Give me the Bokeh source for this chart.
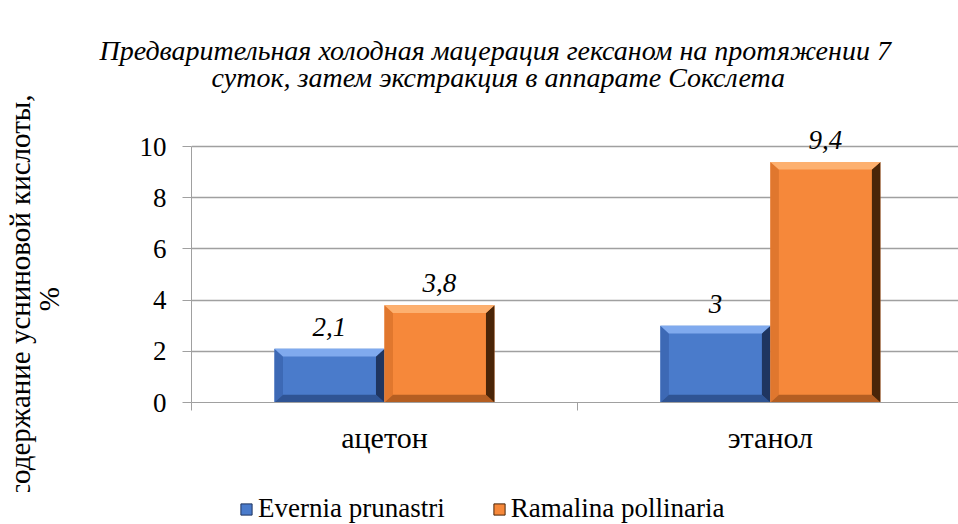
from bokeh.plotting import figure
from bokeh.layouts import column
from bokeh.models import (Range1d, FixedTicker, Title, Legend, LegendItem)
from bokeh.core.properties import value
from bokeh.embed import file_html
from bokeh.resources import INLINE

categories = ["ацетон", "этанол"]
series_names = ["Evernia prunastri", "Ramalina pollinaria"]
evernia = [2.1, 3.0]
ramalina = [3.8, 9.4]
value_labels_evernia = ["2,1", "3"]
value_labels_ramalina = ["3,8", "9,4"]
y_ticks = [0, 2, 4, 6, 8, 10]

title_line1 = "Предварительная холодная мацерация гексаном на протяжении 7"
title_line2 = "суток, затем экстракция в аппарате Сокслета"
NB = "\u00a0"
title_text = title_line1 + "\n" + NB * 16 + title_line2
y_label = "содержание усниновой кислоты," + NB * 9 + "\n%" + NB * 10

FONT = "'Liberation Serif'"
base = {"Evernia prunastri": dict(main="#4a7bcb", top="#80aaee", left="#3d69b5",
                                  bottom="#2f5494", right="#1f3560"),
        "Ramalina pollinaria": dict(main="#f6883a", top="#fdb06f", left="#e0772e",
                                    bottom="#b45e22", right="#4a2508")}

# ---------- main chart ----------
p = figure(frame_width=768, frame_height=279, x_range=Range1d(0, 1.99),
           y_range=Range1d(0, 10.9),
           output_backend="svg", toolbar_location=None,
           min_border_left=190, min_border_right=0, min_border_top=123,
           min_border_bottom=90)
p.outline_line_color = None
p.background_fill_color = "white"
p.border_fill_color = "white"

centers = [i + 0.5 for i in range(len(categories))]
bar_w = 0.285
dx = 0.022
dy = 0.3

bars = []
for s_i, (name, vals, labs) in enumerate([(series_names[0], evernia, value_labels_evernia),
                                          (series_names[1], ramalina, value_labels_ramalina)]):
    c = base[name]
    lefts = [cx + (s_i - 1) * bar_w for cx in centers]
    rights = [l + bar_w for l in lefts]
    bars.append((name, lefts, rights, vals))
    p.quad(left=lefts, right=rights, bottom=[0] * len(vals), top=vals,
           fill_color=c["main"], line_color=None)
    topx, topy, rx, ry, bx, by, lx, ly = [], [], [], [], [], [], [], []
    for l, r, t in zip(lefts, rights, vals):
        topx.append([l, r, r - dx, l + dx]); topy.append([t, t, t - dy, t - dy])
        rx.append([r, r, r - dx, r - dx]); ry.append([t, 0, dy, t - dy])
        bx.append([l, r, r - dx, l + dx]); by.append([0, 0, dy, dy])
        lx.append([l, l, l + dx, l + dx]); ly.append([t, 0, dy, t - dy])
    p.patches(lx, ly, fill_color=c["left"], line_color=None)
    p.patches(bx, by, fill_color=c["bottom"], line_color=None)
    p.patches(rx, ry, fill_color=c["right"], line_color=None)
    p.patches(topx, topy, fill_color=c["top"], line_color=None)
    p.text(x=[(l + r) / 2 for l, r in zip(lefts, rights)], y=vals, text=labs,
           text_font=value(FONT), text_font_style="italic", text_font_size="27px",
           text_align="center", text_baseline="bottom", y_offset=-13,
           text_color="black")

p.yaxis.ticker = FixedTicker(ticks=y_ticks)
p.yaxis.bounds = (0, 10)
p.yaxis.axis_line_color = "#a0a0a0"
p.yaxis.major_tick_line_color = "#a0a0a0"
p.yaxis.major_tick_out = 9
p.yaxis.major_tick_in = 0
p.yaxis.minor_tick_line_color = None
p.yaxis.major_label_text_font = FONT
p.yaxis.major_label_text_font_size = "27px"
p.yaxis.major_label_text_color = "black"
p.yaxis.major_label_standoff = 16
p.yaxis.axis_label = y_label
p.yaxis.axis_label_text_font = FONT
p.yaxis.axis_label_text_font_size = "29px"
p.yaxis.axis_label_text_line_height = 0.9
p.yaxis.axis_label_text_font_style = "normal"
p.yaxis.axis_label_text_color = "black"
p.yaxis.axis_label_standoff = 72

p.xaxis.ticker = FixedTicker(ticks=centers, minor_ticks=[0, 1, 2])
p.xaxis.major_label_overrides = {c: lab for c, lab in zip(centers, categories)}
p.xaxis.axis_line_color = "#a0a0a0"
p.xaxis.major_tick_line_color = None
p.xaxis.major_tick_out = 8
p.xaxis.minor_tick_line_color = "#a0a0a0"
p.xaxis.minor_tick_out = 8
p.xaxis.minor_tick_in = 0
p.xaxis.major_label_text_font = FONT
p.xaxis.major_label_text_font_size = "30px"
p.xaxis.major_label_text_color = "black"
p.xaxis.major_label_standoff = 10

p.xgrid.grid_line_color = None
p.ygrid.ticker = FixedTicker(ticks=y_ticks)
p.ygrid.grid_line_color = "#a0a0a0"
p.ygrid.grid_line_width = 1.5

title = Title(text=title_text, align="left", offset=-92, text_font=FONT,
              text_font_style="italic", text_font_size="28px", text_color="black",
              text_line_height=0.9, standoff=60)
p.add_layout(title, "above")

# ---------- legend strip (frame aligned with the chart frame) ----------
pl = figure(width=958, height=32, x_range=Range1d(100, 101), y_range=Range1d(0, 1),
            output_backend="svg", toolbar_location=None, min_border=0)
pl.axis.visible = False
pl.grid.visible = False
pl.outline_line_color = None
items = []
for name, lefts, rights, vals in bars:
    r = pl.quad(left=lefts, right=rights, bottom=[0] * len(vals), top=vals,
                fill_color=base[name]["main"], line_color=base[name]["right"],
                line_width=1)
    items.append(LegendItem(label=name, renderers=[r]))
legend = Legend(items=items, orientation="horizontal", location=(48, 0),
                label_text_font=FONT, label_text_font_size="27px",
                label_text_color="black", glyph_width=14, glyph_height=14,
                spacing=47, border_line_color=None, background_fill_alpha=0,
                label_standoff=5, padding=0, margin=0)
pl.add_layout(legend, "center")

layout = column(p, pl, spacing=0)
open("out.html", "w").write(file_html(layout, INLINE))
